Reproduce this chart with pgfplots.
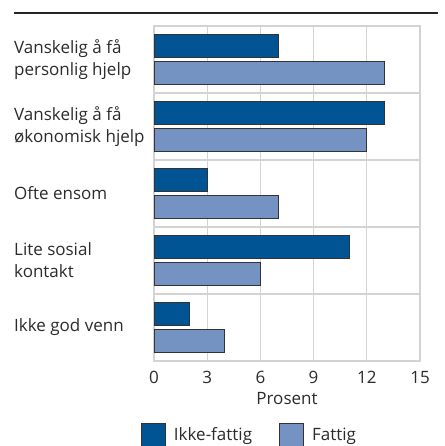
\documentclass[border=0pt]{standalone}
\usepackage{pgfplots}
\pgfplotsset{compat=1.18}
\usepackage{fontspec}
\setmainfont{Open Sans}
\definecolor{dark}{HTML}{005494}
\definecolor{light}{HTML}{7493C2}
\definecolor{gridc}{HTML}{D3D3D3}
\definecolor{txt}{HTML}{2B2B2B}
\begin{document}
\begin{tikzpicture}[x=1pt,y=1pt]
\path[use as bounding box] (0,0) rectangle (444,446);
\draw[line width=1.5pt, black!85] (14,433) -- (438,433);
\begin{axis}[
 at={(154pt,85pt)}, anchor=south west,
 scale only axis, width=266pt, height=335pt,
 xmin=0, xmax=15, ymin=-0.5, ymax=4.5,
 xtick={0,3,6,9,12,15},
 ytick={0,1,2,3,4},
 yticklabels={Ikke god venn, {Lite sosial\\kontakt}, Ofte ensom, {Vanskelig å få\\økonomisk hjelp}, {Vanskelig å få\\personlig hjelp}},
 minor ytick={0.5,1.5,2.5,3.5},
 xmajorgrids, yminorgrids,
 major grid style={gridc, line width=1.3pt},
 minor grid style={gridc, line width=1.3pt},
 axis line style={gridc, line width=1.3pt},
 major tick length=0pt, minor tick length=0pt,
 tick style={draw=none},
 /pgf/number format/assume math mode=true,
 yticklabel style={align=left, anchor=west, xshift=-140pt, inner sep=0pt, font=\fontsize{17}{22}\selectfont, text=txt},
 xticklabel style={inner sep=0pt, yshift=-10pt, font=\fontsize{17}{22}\selectfont, text=txt},
 xlabel={Prosent},
 xlabel style={at={(axis description cs:0.5,0)}, anchor=north, yshift=-31pt, inner sep=0pt, font=\fontsize{17}{22}\selectfont, text=txt},
 xbar, bar width=23pt,
 legend style={at={(rel axis cs:-0.049,-0.185)}, anchor=north west, draw=none, inner sep=0pt, outer sep=0pt, font=\fontsize{17}{22}\selectfont, text=txt,
   /tikz/every odd column/.append style={column sep=6pt},
   /tikz/every even column/.append style={column sep=25pt}},
 legend columns=2,
 legend image code/.code={\draw[#1, bar width=0pt, bar shift=0pt] (0pt,-11.5pt) rectangle (24pt,11.5pt);},
]
\addplot[fill=dark, draw=black!80, line width=1pt, bar shift=13.5pt] coordinates {(2,0) (11,1) (3,2) (13,3) (7,4)};
\addlegendentry{Ikke-fattig}
\addplot[fill=light, draw=black!80, line width=1pt, bar shift=-13.5pt] coordinates {(4,0) (6,1) (7,2) (12,3) (13,4)};
\addlegendentry{Fattig}
\end{axis}
\end{tikzpicture}
\end{document}
